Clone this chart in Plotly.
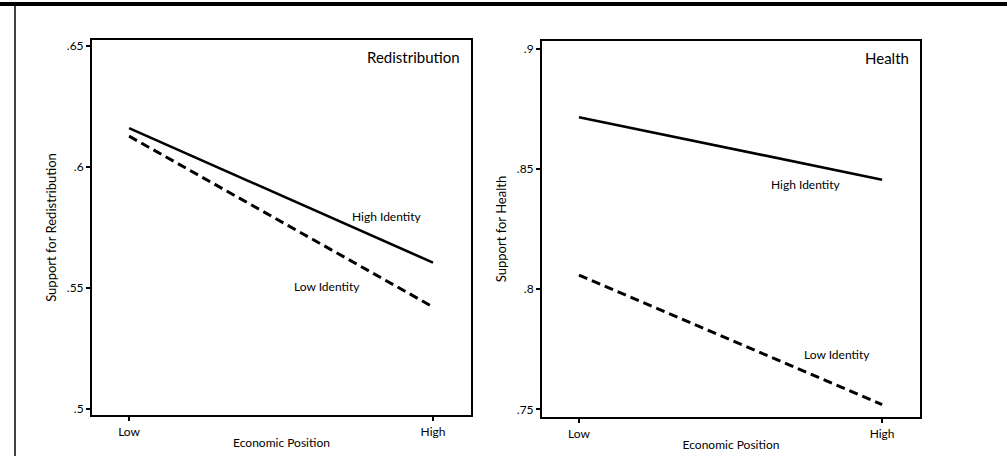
import plotly.graph_objects as go

W, H = 1007, 457

econ_labels = ["Low", "High"]
econ_x = [0, 1]

redis_high = [0.616, 0.5605]
redis_low = [0.6127, 0.5422]
health_high = [0.8715, 0.8455]
health_low = [0.8058, 0.752]

redis_ticks = [0.5, 0.55, 0.6, 0.65]
redis_ticktext = [".5", ".55", ".6", ".65"]
health_ticks = [0.75, 0.8, 0.85, 0.9]
health_ticktext = [".75", ".8", ".85", ".9"]

FONT = "Lato"

def px_x(p):
    return p / W

def px_y(p):
    return 1 - p / H

fig = go.Figure()

line_solid = dict(color="black", width=2.6)
line_dash = dict(color="black", width=3, dash="9px,5px")

fig.add_trace(go.Scatter(x=econ_x, y=redis_high, mode="lines", line=line_solid,
                         xaxis="x", yaxis="y", showlegend=False))
fig.add_trace(go.Scatter(x=econ_x, y=redis_low, mode="lines", line=line_dash,
                         xaxis="x", yaxis="y", showlegend=False))
fig.add_trace(go.Scatter(x=econ_x, y=health_high, mode="lines", line=line_solid,
                         xaxis="x2", yaxis="y2", showlegend=False))
fig.add_trace(go.Scatter(x=econ_x, y=health_low, mode="lines", line=line_dash,
                         xaxis="x2", yaxis="y2", showlegend=False))

tfont = dict(family=FONT, size=12, color="black")
yfont = dict(family=FONT, size=13, color="black")

common_x = dict(range=[-0.122, 1.125], tickvals=econ_x, ticktext=econ_labels,
                showline=True, linecolor="black", linewidth=2, mirror=True,
                ticks="outside", ticklen=4, tickcolor="black", tickwidth=1.5,
                showgrid=False, zeroline=False, tickfont=tfont)
common_y = dict(showline=True, linecolor="black", linewidth=2, mirror=True,
                ticks="outside", ticklen=4, tickcolor="black", tickwidth=1.5,
                showgrid=False, zeroline=False, tickfont=tfont)

fig.update_layout(
    width=W, height=H,
    margin=dict(l=0, r=0, t=0, b=0),
    paper_bgcolor="white", plot_bgcolor="white",
    xaxis=dict(domain=[px_x(92), px_x(471)], anchor="y",
               title=dict(text="Economic Position", font=tfont, standoff=1),
               **common_x),
    yaxis=dict(domain=[px_y(416), px_y(38)], anchor="x",
               range=[0.4975, 0.6525], tickvals=redis_ticks, ticktext=redis_ticktext,
               title=dict(text="Support for Redistribution", font=yfont, standoff=7),
               **common_y),
    xaxis2=dict(domain=[px_x(542), px_x(920)], anchor="y2",
                title=dict(text="Economic Position", font=tfont, standoff=1),
                **common_x),
    yaxis2=dict(domain=[px_y(418), px_y(39)], anchor="x2",
                range=[0.7467, 0.9033], tickvals=health_ticks, ticktext=health_ticktext,
                title=dict(text="Support for Health", font=yfont, standoff=7),
                **common_y),
)

fig.add_annotation(text="Redistribution", xref="x domain", yref="y domain", x=0.975, y=0.955,
                   xanchor="right", yanchor="middle", showarrow=False,
                   font=dict(family=FONT, size=15, color="black"))
fig.add_annotation(text="Health", xref="x2 domain", yref="y2 domain", x=0.975, y=0.955,
                   xanchor="right", yanchor="middle", showarrow=False,
                   font=dict(family=FONT, size=15, color="black"))
fig.add_annotation(text="High Identity", xref="x", yref="y", x=0.85, y=0.5795,
                   showarrow=False, font=tfont)
fig.add_annotation(text="Low Identity", xref="x", yref="y", x=0.65, y=0.5505,
                   showarrow=False, font=tfont)
fig.add_annotation(text="High Identity", xref="x2", yref="y2", x=0.75, y=0.8437,
                   showarrow=False, font=tfont)
fig.add_annotation(text="Low Identity", xref="x2", yref="y2", x=0.85, y=0.773,
                   showarrow=False, font=tfont)

# outer frame: thick top bar and thin left rule
fig.add_shape(type="rect", xref="paper", yref="paper", x0=0, x1=1, y0=px_y(4), y1=1,
              fillcolor="black", line=dict(width=0))
fig.add_shape(type="line", xref="paper", yref="paper", x0=px_x(15), x1=px_x(15), y0=0, y1=1,
              line=dict(color="black", width=1.5))

fig.write_html("out.html")
